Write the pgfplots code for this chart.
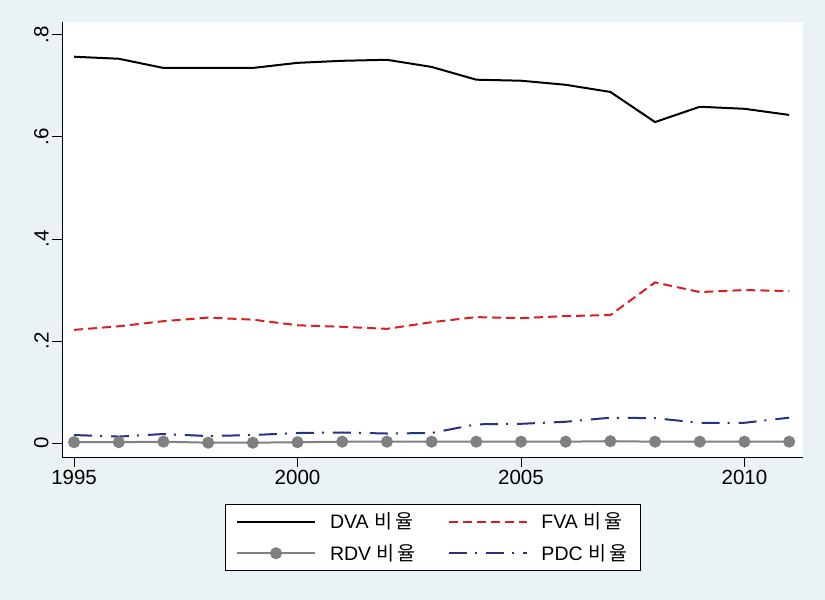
\documentclass[border=0pt]{standalone}
\usepackage{pgfplots}
\pgfplotsset{compat=1.18}
\usepackage{fontspec}
\setmainfont{Liberation Sans}
\newfontfamily\kr{Noto Sans CJK KR}
\definecolor{bgc}{RGB}{234,242,243}
\definecolor{fvared}{RGB}{220,30,35}
\definecolor{pdcnavy}{RGB}{40,50,130}
\definecolor{rdvgray}{RGB}{128,128,128}
\newcommand{\biyul}{{\kr 비\kern3pt 율}}
\begin{document}
\begin{tikzpicture}[x=1pt,y=1pt]
\fill[bgc] (0,0) rectangle (825,600);
\begin{axis}[
  at={(62pt,143pt)}, anchor=south west,
  scale only axis, width=741pt, height=435pt,
  xmin=1994.73, xmax=2011.31,
  ymin=-0.027, ymax=0.825,
  axis x line*=bottom, axis y line*=left,
  axis line style={line width=0.9pt},
  axis background/.style={fill=white},
  xtick={1995,2000,2005,2010},
  xticklabels={1995,2000,2005,2010},
  ytick={0,0.2,0.4,0.6,0.8},
  yticklabels={0,.2,.4,.6,.8},
  tick align=outside, major tick length=10pt,
  tick style={line width=0.9pt,black},
  /pgf/number format/assume math mode=true,
  ticklabel style={font=\fontsize{20.5}{22}\selectfont},
  yticklabel style={rotate=90, anchor=south},
  legend columns=2,
  legend style={at={(0.5,-0.108)}, anchor=north, fill=white, draw=black, line width=0.7pt,
    font=\fontsize{19.5}{21}\selectfont, inner xsep=11pt, inner ysep=6.5pt,
    /tikz/row sep=10pt,
    /tikz/every odd column/.append style={column sep=12pt},
    /tikz/every even column/.append style={column sep=30pt}},
  legend cell align=left,
  legend image code/.code={\draw[mark repeat=2,mark phase=2,#1] plot coordinates {(0pt,0pt) (39pt,0pt) (78pt,0pt)};},
]
\addplot[black, line width=2pt] coordinates {
(1995,0.757) (1996,0.753) (1997,0.735) (1998,0.735) (1999,0.735) (2000,0.745) (2001,0.749) (2002,0.751) (2003,0.737) (2004,0.712) (2005,0.710) (2006,0.702) (2007,0.688) (2008,0.629) (2009,0.659) (2010,0.655) (2011,0.643)};
\addlegendentry{DVA \biyul}
\addplot[fvared, line width=2pt, dash pattern=on 9pt off 5pt] coordinates {
(1995,0.222) (1996,0.229) (1997,0.239) (1998,0.246) (1999,0.242) (2000,0.231) (2001,0.228) (2002,0.224) (2003,0.237) (2004,0.247) (2005,0.245) (2006,0.249) (2007,0.251) (2008,0.315) (2009,0.296) (2010,0.300) (2011,0.298)};
\addlegendentry{FVA \biyul}
\addplot[rdvgray, line width=2pt, mark=*, mark size=5pt, mark options={fill=rdvgray, draw=rdvgray, solid}] coordinates {
(1995,0.002) (1996,0.002) (1997,0.003) (1998,0.001) (1999,0.001) (2000,0.002) (2001,0.003) (2002,0.003) (2003,0.003) (2004,0.003) (2005,0.003) (2006,0.003) (2007,0.004) (2008,0.003) (2009,0.003) (2010,0.003) (2011,0.003)};
\addlegendentry{RDV \biyul}
\addplot[pdcnavy, line width=2pt, dash pattern=on 18pt off 8pt on 2pt off 9pt] coordinates {
(1995,0.016) (1996,0.013) (1997,0.018) (1998,0.014) (1999,0.016) (2000,0.020) (2001,0.021) (2002,0.019) (2003,0.020) (2004,0.037) (2005,0.038) (2006,0.042) (2007,0.050) (2008,0.049) (2009,0.040) (2010,0.040) (2011,0.050)};
\addlegendentry{PDC \biyul}
\end{axis}
\end{tikzpicture}
\end{document}
